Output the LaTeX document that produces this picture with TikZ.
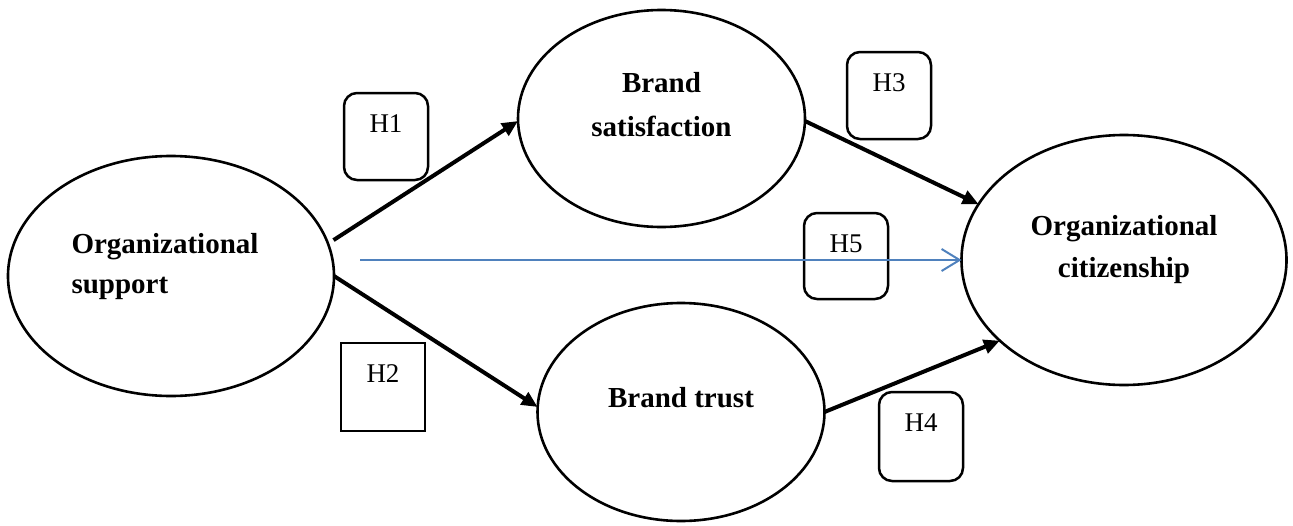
\documentclass[tikz,border=0pt]{standalone}
\usepackage{fontspec}
\setmainfont{Liberation Serif}
\usetikzlibrary{shapes.geometric,arrows.meta}
\definecolor{arrowblue}{RGB}{79,129,189}
\tikzset{
  construct/.style={draw, ellipse, line width=2.6pt, inner sep=0pt, outer sep=0pt,
    font=\bfseries\fontsize{29}{42}\selectfont},
  hyp/.style={draw, line width=2.5pt, inner sep=0pt, outer sep=0pt, rounded corners=13pt,
    minimum width=84pt, text height=39pt, font=\fontsize{27}{30}\selectfont},
  hypsq/.style={hyp, sharp corners},
  path/.style={line width=4pt, -{Triangle[length=16pt,width=14pt]}},
  direct/.style={line width=2pt, arrowblue, -{Straight Barb[length=18pt,width=22pt,line width=2pt]}}
}
\newcommand{\lifted}[2]{\raisebox{#1}[0pt][0pt]{#2}}
\begin{document}
\begin{tikzpicture}[x=1pt,y=-1pt]
\useasboundingbox (0,0) rectangle (1293,525);
% constructs
\node[construct, minimum width=326pt, minimum height=240pt] (os) at (171,276)
  {\hspace*{-12pt}\lifted{5pt}{\begin{tabular}{@{}l@{}}Organizational\\[-2pt]support\end{tabular}}};
\node[construct, minimum width=287pt, minimum height=217pt] (bs) at (661.5,118.5)
  {\lifted{6pt}{\begin{tabular}{@{}c@{}}Brand\\[2pt]satisfaction\end{tabular}}};
\node[construct, minimum width=287pt, minimum height=218pt] (bt) at (681,412)
  {\lifted{6.5pt}{\begin{tabular}{@{}c@{}}Brand trust\end{tabular}}};
\node[construct, minimum width=325pt, minimum height=250pt] (oc) at (1124,260)
  {\lifted{6pt}{\begin{tabular}{@{}c@{}}Organizational\\citizenship\end{tabular}}};
% hypothesis boxes
\node[hyp, text depth=48pt] (h1) at (386,136.5) {H1};
\node[hypsq, text depth=49pt] (h2) at (383,387) {H2};
\node[hyp, text depth=48pt] (h3) at (889,95.5) {H3};
\node[hyp, text depth=47pt] (h5) at (846,256) {H5};
\node[hyp, text depth=50pt] (h4) at (921,436.5) {H4};
% connectors
\coordinate (bluestart) at (360,260);
\draw[path] ([xshift=7pt]os.13) -- (bs.181);
\draw[path] (os.0) -- (bt.178);
\draw[path] (bs.-1) -- (oc.159);
\draw[path] (bt.0) -- (oc.213);
\draw[direct] (bluestart) -- (oc.west);
\end{tikzpicture}
\end{document}
